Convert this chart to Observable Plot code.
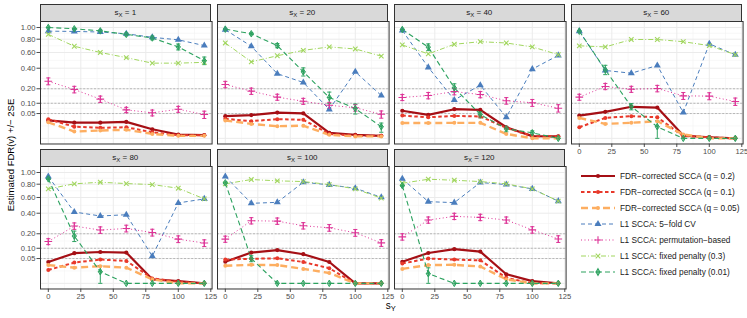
<!DOCTYPE html>
<html><head><meta charset="utf-8">
<script src="https://cdn.jsdelivr.net/npm/d3@7"></script>
<script src="https://cdn.jsdelivr.net/npm/@observablehq/plot@0.6"></script>
<style>
body{margin:0;background:#fff;font-family:"Liberation Sans",Arial,sans-serif;}
#root{position:relative;width:747px;height:318px;overflow:hidden;background:#fff;}
.strip{position:absolute;background:#d9d9d9;border:1px solid #333;box-sizing:border-box;font-size:8px;color:#1a1a1a;text-align:center;white-space:nowrap;}
.strip sub,.xt sub{font-size:75%;vertical-align:-2px;line-height:0;}
.panel{position:absolute;}
.panel svg{background:transparent !important;max-width:none !important;display:block;}
.legrow{position:absolute;height:16px;display:flex;align-items:center;font-size:8.3px;color:#1a1a1a;white-space:nowrap;}
</style></head><body><div id="root"></div>
<script>
// ---------------- data ----------------
const sY = [0, 20, 40, 60, 80, 100, 120];
const sX = [1, 20, 40, 60, 80, 100, 120];
const methods = [
  "FDR−corrected SCCA (q = 0.2)",
  "FDR−corrected SCCA (q = 0.1)",
  "FDR−corrected SCCA (q = 0.05)",
  "L1 SCCA: 5−fold CV",
  "L1 SCCA: permutation−based",
  "L1 SCCA: fixed penalty (0.3)",
  "L1 SCCA: fixed penalty (0.01)"
];
const yTickLabels = [0.05, 0.1, 0.2, 0.4, 0.6, 0.8, 1];
const xTickLabels = [0, 25, 50, 75, 100, 125];
const refLines = [0.05, 0.1, 0.2];

// one row per panel (s_X), one value per s_Y
const fdr02 = [
  [0.026, 0.020, 0.020, 0.022, 0.0067, 0.0012, 0.0008],
  [0.040, 0.044, 0.054, 0.051, 0.0025, 0.0010, 0.0005],
  [0.062, 0.045, 0.069, 0.066, 0.010, 0.0004, 0.0003],
  [0.042, 0.057, 0.081, 0.077, 0.0006, 0.0001, 0],
  [0.037, 0.074, 0.080, 0.077, 0.0013, 0.0004, 0],
  [0.038, 0.077, 0.090, 0.069, 0.037, 0, 0],
  [0.038, 0.075, 0.095, 0.082, 0.0067, 0.0004, 0]
];
const fdr01 = [
  [0.030, 0.011, 0.009, 0.010, 0.003, 0.0008, 0.0008],
  [0.031, 0.024, 0.030, 0.028, 0.0016, 0.0006, 0.0005],
  [0.042, 0.036, 0.041, 0.039, 0.009, 0.0004, 0.0003],
  [0.010, 0.034, 0.040, 0.036, 0.0004, 0.0001, 0],
  [0.0145, 0.035, 0.046, 0.041, 0.002, 0.0002, 0],
  [0.046, 0.049, 0.051, 0.037, 0.0185, 0, 0],
  [0.032, 0.050, 0.046, 0.043, 0.0025, 0, 0]
];
const fdr005 = [
  [0.021, 0.0037, 0.005, 0.006, 0.0016, 0.0005, 0.0005],
  [0.026, 0.017, 0.012, 0.013, 0.001, 0.0003, 0.0003],
  [0.019, 0.019, 0.0195, 0.0195, 0.0016, 0, 0],
  [0.034, 0.017, 0.0196, 0.024, 0.0012, 0, 0],
  [0.027, 0.020, 0.024, 0.020, 0.0013, 0, 0],
  [0.025, 0.028, 0.027, 0.017, 0.0087, 0, 0],
  [0.017, 0.027, 0.028, 0.023, 0.0013, 0, 0]
];
const cv = [
  [0.935, 0.93, 0.92, 0.89, 0.83, 0.79, 0.70],
  [0.96, 0.69, 0.34, 0.254, 0.068, 0.36, 0.149],
  [0.947, 0.41, 0.12, 0.23, 0.036, 0.39, 0.56],
  [0.935, 0.375, 0.345, 0.432, 0.054, 0.727, 0.568],
  [0.929, 0.414, 0.369, 0.383, 0.06, 0.526, 0.58],
  [0.929, 0.521, 0.534, 0.832, 0.789, 0.736, 0.602],
  [0.889, 0.543, 0.53, 0.827, 0.794, 0.726, 0.55]
];
const perm = [
  [0.265, 0.194, 0.125, 0.066, 0.053, 0.069, 0.046],
  [0.236, 0.181, 0.138, 0.112, 0.089, 0.076, 0.047],
  [0.136, 0.149, 0.178, 0.156, 0.115, 0.103, 0.074],
  [0.138, 0.219, 0.196, 0.202, 0.147, 0.145, 0.11],
  [0.142, 0.267, 0.231, 0.245, 0.21, 0.159, 0.132],
  [0.159, 0.319, 0.315, 0.27, 0.251, 0.208, 0.133],
  [0.176, 0.326, 0.365, 0.354, 0.326, 0.233, 0.16]
];
const permSE = [
  [0.016, 0.013, 0.010, 0.006, 0.006, 0.007, 0.007],
  [0.014, 0.012, 0.010, 0.009, 0.008, 0.008, 0.007],
  [0.010, 0.011, 0.012, 0.011, 0.010, 0.010, 0.009],
  [0.010, 0.013, 0.012, 0.013, 0.012, 0.012, 0.011],
  [0.010, 0.015, 0.014, 0.015, 0.014, 0.012, 0.011],
  [0.011, 0.016, 0.016, 0.015, 0.015, 0.014, 0.011],
  [0.012, 0.016, 0.017, 0.017, 0.016, 0.014, 0.012]
];
const fix03 = [
  [0.88, 0.69, 0.60, 0.53, 0.46, 0.46, 0.47],
  [0.74, 0.476, 0.555, 0.63, 0.68, 0.65, 0.55],
  [0.71, 0.58, 0.72, 0.76, 0.74, 0.68, 0.57],
  [0.697, 0.68, 0.795, 0.795, 0.76, 0.70, 0.57],
  [0.726, 0.806, 0.832, 0.81, 0.794, 0.736, 0.58],
  [0.806, 0.877, 0.855, 0.843, 0.794, 0.726, 0.59],
  [0.815, 0.882, 0.865, 0.843, 0.806, 0.726, 0.55]
];
const fix001 = [
  [1.0, 0.976, 0.94, 0.88, 0.82, 0.68, 0.49],
  [0.97, 0.89, 0.70, 0.36, 0.136, 0.072, 0.011],
  [0.964, 0.676, 0.208, 0.046, 0.0074, 0.0025, 0],
  [0.935, 0.382, 0.082, 0.011, 0, 0, 0],
  [0.889, 0.182, 0.011, 0, 0, 0, 0],
  [0.822, 0.05, 0, 0, 0, 0, 0],
  [0.778, 0.0076, 0, 0, 0, 0, 0]
];
const fix001SE = [
  [0.003, 0.006, 0.008, 0.012, 0.015, 0.022, 0.024],
  [0.003, 0.008, 0.016, 0.022, 0.019, 0.012, 0.004],
  [0.004, 0.025, 0.017, 0.006, 0.002, 0.001, 0],
  [0.004, 0.026, 0.008, 0.007, 0, 0, 0],
  [0.005, 0.020, 0.007, 0, 0, 0, 0],
  [0.006, 0.006, 0, 0, 0, 0, 0],
  [0.006, 0.006, 0, 0, 0, 0, 0]
];

const values = [fdr02, fdr01, fdr005, cv, perm, fix03, fix001];
const ses = [null, null, null, null, permSE, null, fix001SE];

const styles = [
  {color: "#a50f15", width: 2.2, dash: null, symbol: "circle", r: 2.1, filled: true},
  {color: "#e8392b", width: 2.0, dash: "3.5,2.5", symbol: "circle", r: 2.0, filled: true},
  {color: "#fdae61", width: 2.4, dash: "7,4", symbol: "circle", r: 2.0, filled: true},
  {color: "#4a7dbd", width: 1.0, dash: "4,3", symbol: "triangle", r: 2.6, filled: true},
  {color: "#dd3497", width: 1.0, dash: "1,2.5", symbol: "plus", r: 2.6, filled: false},
  {color: "#a1d65e", width: 1.0, dash: "5,2,1,2", symbol: "times", r: 2.2, filled: false},
  {color: "#2ca25f", width: 1.1, dash: "5,3", symbol: "diamond", r: 2.0, filled: false}
];

// --------------- table ----------------
const rows = [];
sX.forEach((sx, p) => methods.forEach((m, k) => sY.forEach((sy, j) => {
  rows.push({panel: p, sx, sy, k, method: m, v: values[k][p][j], se: ses[k] ? ses[k][p][j] : 0});
})));

// --------------- layout ---------------
const W = 171.6, H = 122.5;
const colLeft = [39.5, 216.5, 393.5, 570.5];
const rowTop = [21, 166];
const stripH = 17;
const yDomain = [-0.051, 1.054];
const yTickPos = yTickLabels.map(Math.sqrt);
const yMinor = d3.pairs([0, ...yTickPos]).map(([a, b]) => (a + b) / 2);
const xMinor = d3.pairs(xTickLabels).map(([a, b]) => (a + b) / 2);
const capHalf = 1.6;

const root = document.getElementById("root");
const Y = d => Math.sqrt(Math.max(0, d.v));

sX.forEach((sx, p) => {
  const row = p < 4 ? 0 : 1, col = p % 4;
  const hasY = col === 0;
  const hasX = row === 1 || p === 3;
  const ml = hasY ? 40 : 0, mb = hasX ? 16 : 0;
  const pr = rows.filter(d => d.panel === p);
  const eb = pr.filter(d => d.se > 0);

  const marks = [
    Plot.ruleX(xMinor, {stroke: "#f3f3f3", strokeWidth: 0.6}),
    Plot.ruleY(yMinor, {stroke: "#f3f3f3", strokeWidth: 0.6}),
    Plot.ruleX(xTickLabels, {stroke: "#ebebeb", strokeWidth: 1}),
    Plot.ruleY([0, ...yTickLabels], {y: d => Math.sqrt(d), stroke: "#ebebeb", strokeWidth: 1}),
    Plot.ruleY(refLines, {y: d => Math.sqrt(d), stroke: "#a8a8a8", strokeWidth: 0.8, strokeDasharray: "2,1.6"})
  ];
  styles.forEach((s, k) => {
    marks.push(Plot.line(pr.filter(d => d.k === k), {
      x: "sy", y: Y, stroke: s.color, strokeWidth: s.width,
      strokeDasharray: s.dash, strokeLinejoin: "round", strokeLinecap: "butt"
    }));
  });
  styles.forEach((s, k) => {
    const e = eb.filter(d => d.k === k);
    if (!e.length) return;
    const lo = d => Math.sqrt(Math.max(0, d.v - 2 * d.se));
    const hi = d => Math.sqrt(d.v + 2 * d.se);
    marks.push(Plot.ruleX(e, {x: "sy", y1: lo, y2: hi, stroke: s.color, strokeWidth: 1}));
    marks.push(Plot.link(e, {x1: d => d.sy - capHalf, x2: d => d.sy + capHalf, y1: hi, y2: hi, stroke: s.color, strokeWidth: 1}));
    marks.push(Plot.link(e, {x1: d => d.sy - capHalf, x2: d => d.sy + capHalf, y1: lo, y2: lo, stroke: s.color, strokeWidth: 1}));
  });
  styles.forEach((s, k) => {
    const d0 = pr.filter(d => d.k === k);
    if (s.filled) {
      marks.push(Plot.dot(d0, {x: "sy", y: Y, symbol: s.symbol, r: s.r, fill: s.color, stroke: "none"}));
    } else if (s.symbol === "diamond") {
      marks.push(Plot.dot(d0, {x: "sy", y: Y, symbol: "diamond", r: s.r, fill: "none", stroke: s.color, strokeWidth: 1}));
      marks.push(Plot.dot(d0, {x: "sy", y: Y, symbol: "plus", r: s.r * 0.85, stroke: s.color, strokeWidth: 0.9}));
    } else {
      marks.push(Plot.dot(d0, {x: "sy", y: Y, symbol: s.symbol, r: s.r, stroke: s.color, strokeWidth: 1.1}));
    }
  });
  marks.push(Plot.frame({stroke: "#333333", strokeWidth: 1}));

  const chart = Plot.plot({
    width: W + ml, height: H + mb,
    marginLeft: ml, marginRight: 0, marginTop: 0, marginBottom: mb,
    style: {fontSize: "7.6px", fontFamily: "Liberation Sans, Arial, sans-serif", color: "#4d4d4d", background: "transparent", overflow: "visible"},
    x: {domain: [-6, 126], ticks: xTickLabels, tickSize: 3.5, tickPadding: 1, axis: hasX ? "bottom" : null, label: null},
    y: {domain: yDomain, ticks: yTickPos, tickFormat: d => (d * d).toFixed(2), tickSize: 3.5, tickPadding: 1.5, axis: hasY ? "left" : null, label: null},
    marks
  });
  const wrap = document.createElement("div");
  wrap.className = "panel";
  wrap.style.left = (colLeft[col] - ml) + "px";
  wrap.style.top = rowTop[row] + "px";
  wrap.style.width = (W + ml) + "px";
  wrap.appendChild(chart);
  root.appendChild(wrap);

  const strip = document.createElement("div");
  strip.className = "strip";
  strip.style.left = colLeft[col] + "px";
  strip.style.top = (rowTop[row] - stripH) + "px";
  strip.style.width = W + "px";
  strip.style.height = (stripH + 1) + "px";
  strip.style.lineHeight = (stripH - 1) + "px";
  strip.innerHTML = `s<sub>X</sub> = ${sx}`;
  root.appendChild(strip);
});

// axis titles
const yt = document.createElement("div");
yt.textContent = "Estimated FDR(v) +/− 2SE";
Object.assign(yt.style, {position: "absolute", left: "10px", top: "155px", transform: "translate(-50%,-50%) rotate(-90deg)", fontSize: "9.5px", color: "#000", whiteSpace: "nowrap"});
root.appendChild(yt);
const xt = document.createElement("div");
xt.className = "xt";
xt.innerHTML = "s<sub>Y</sub>";
Object.assign(xt.style, {position: "absolute", left: "390.7px", top: "305px", transform: "translate(-50%,-50%)", fontSize: "10px", color: "#000", whiteSpace: "nowrap"});
root.appendChild(xt);

// legend
const symMap = {circle: d3.symbolCircle, triangle: d3.symbolTriangle, plus: d3.symbolPlus, times: d3.symbolTimes, diamond: d3.symbolDiamond};
methods.forEach((m, k) => {
  const s = styles[k];
  const r = document.createElement("div");
  r.className = "legrow";
  r.style.left = "580px";
  r.style.top = (168 + 16 * k) + "px";
  const svg = d3.create("svg").attr("width", 36).attr("height", 16).style("margin-right", "4px");
  svg.append("line").attr("x1", 1).attr("x2", 35).attr("y1", 8).attr("y2", 8)
    .attr("stroke", s.color).attr("stroke-width", s.width).attr("stroke-dasharray", s.dash);
  const path = d3.symbol(symMap[s.symbol], Math.PI * s.r * s.r)();
  const g = svg.append("path").attr("d", path).attr("transform", "translate(18,8)");
  if (s.filled) g.attr("fill", s.color);
  else g.attr("fill", "none").attr("stroke", s.color).attr("stroke-width", 1.1);
  if (s.symbol === "diamond") {
    svg.append("path").attr("d", d3.symbol(d3.symbolPlus, Math.PI * s.r * s.r * 0.72)()).attr("transform", "translate(18,8)")
      .attr("fill", "none").attr("stroke", s.color).attr("stroke-width", 0.9);
  }
  r.appendChild(svg.node());
  const t = document.createElement("span");
  t.textContent = m;
  r.appendChild(t);
  root.appendChild(r);
});
</script></body></html>
